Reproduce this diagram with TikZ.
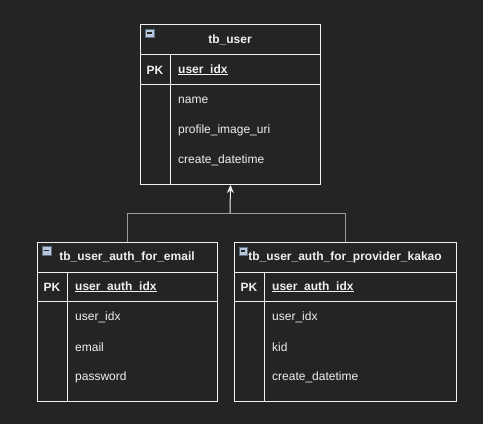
\documentclass[tikz,border=0pt]{standalone}
\usepackage{fontspec}
\setmainfont{Liberation Sans}
\usetikzlibrary{arrows.meta}
\definecolor{bg}{HTML}{242424}
\definecolor{fg}{HTML}{F0F0F0}
\definecolor{link}{HTML}{9A9A9A}
\definecolor{iconfill}{HTML}{B8C8DC}
\definecolor{iconline}{HTML}{5E6E84}
\newcommand{\pkunder}[1]{\setbox0\hbox{#1}\rlap{\rule[-2pt]{\wd0}{0.9pt}}\box0}
\tikzset{
  tbl/.style={draw=fg, line width=1pt, anchor=north west, inner sep=0pt, minimum width=180},
  title/.style={font=\fontsize{12}{14}\selectfont\bfseries, text=fg},
  key/.style={font=\fontsize{12}{14}\selectfont\bfseries, text=fg},
  field/.style={font=\fontsize{12}{14}\selectfont, text=fg, anchor=west, inner sep=0pt},
  pkfield/.style={field, font=\fontsize{12}{14}\selectfont\bfseries},
  toggle/.style={draw=iconline, fill=iconfill, minimum size=8.5, inner sep=0pt,
    path picture={\draw[line width=1.3pt, black!85] ([xshift=2]path picture bounding box.west) -- ([xshift=-2]path picture bounding box.east);}},
  rule/.style={draw=fg, line width=1pt}
}
\begin{document}
\begin{tikzpicture}[x=1pt, y=-1pt]
    \fill[bg] (0,0) rectangle (483,424);
    \useasboundingbox (0,0) rectangle (483,424);
    \begin{scope}[shift={(140, 24)}]
      \node[tbl, minimum height=160] (user) at (0, 0) {};
      \draw[rule] (0, 30) -- (180, 30);
      \draw[rule] (0, 60) -- (180, 60);
      \draw[rule] (30, 30) -- (30, 160);
      \node[toggle] (usertoggle) at (9.5, 9) {};
      \node[title] (usertitle) at (90, 16) {tb\_user};
      \node[key] (userpk) at (15, 46) {PK};
      \node[pkfield] (useridx) at (38, 46) {\pkunder{user\_idx}};
      \node[field] (username) at (38, 76) {name};
      \node[field] (userimage) at (38, 106) {profile\_image\_uri};
      \node[field] (usercreate) at (38, 136) {create\_datetime};
    \end{scope}
    \begin{scope}[shift={(37, 242)}]
      \node[tbl, minimum height=159] (email) at (0, 0) {};
      \draw[rule] (0, 30) -- (180, 30);
      \draw[rule] (0, 59) -- (180, 59);
      \draw[rule] (30, 30) -- (30, 159);
      \node[toggle] (emailtoggle) at (9.5, 8.5) {};
      \node[title] (emailtitle) at (90, 15) {tb\_user\_auth\_for\_email};
      \node[key] (emailpk) at (15, 45) {PK};
      \node[pkfield] (emailidx) at (38, 45) {\pkunder{user\_auth\_idx}};
      \node[field] (emailuser) at (38, 75) {user\_idx};
      \node[field] (emailmail) at (38, 105) {email};
      \node[field] (emailpass) at (38, 135) {password};
    \end{scope}
    \begin{scope}[shift={(234, 242)}]
      \node[tbl, minimum width=222, minimum height=159] (kakao) at (0, 0) {};
      \draw[rule] (0, 30) -- (222, 30);
      \draw[rule] (0, 59) -- (222, 59);
      \draw[rule] (30, 30) -- (30, 159);
      \node[toggle] (kakaotoggle) at (9, 9) {};
      \node[title] (kakaotitle) at (111, 15) {tb\_user\_auth\_for\_provider\_kakao};
      \node[key] (kakaopk) at (15, 45) {PK};
      \node[pkfield] (kakaoidx) at (38, 45) {\pkunder{user\_auth\_idx}};
      \node[field] (kakaouser) at (38, 75) {user\_idx};
      \node[field] (kakaokid) at (38, 105) {kid};
      \node[field] (kakaocreate) at (38, 135) {create\_datetime};
    \end{scope}
    
    \coordinate (join) at (230, 213);
    \draw[link, line width=1pt] (email.north) |- (join);
    \draw[link, line width=1pt] (kakao.north) |- (join);
    \draw[fg, line width=1pt, -{Stealth[length=8, width=7]}] (join) -- (user.south);
  \end{tikzpicture}
\end{document}
